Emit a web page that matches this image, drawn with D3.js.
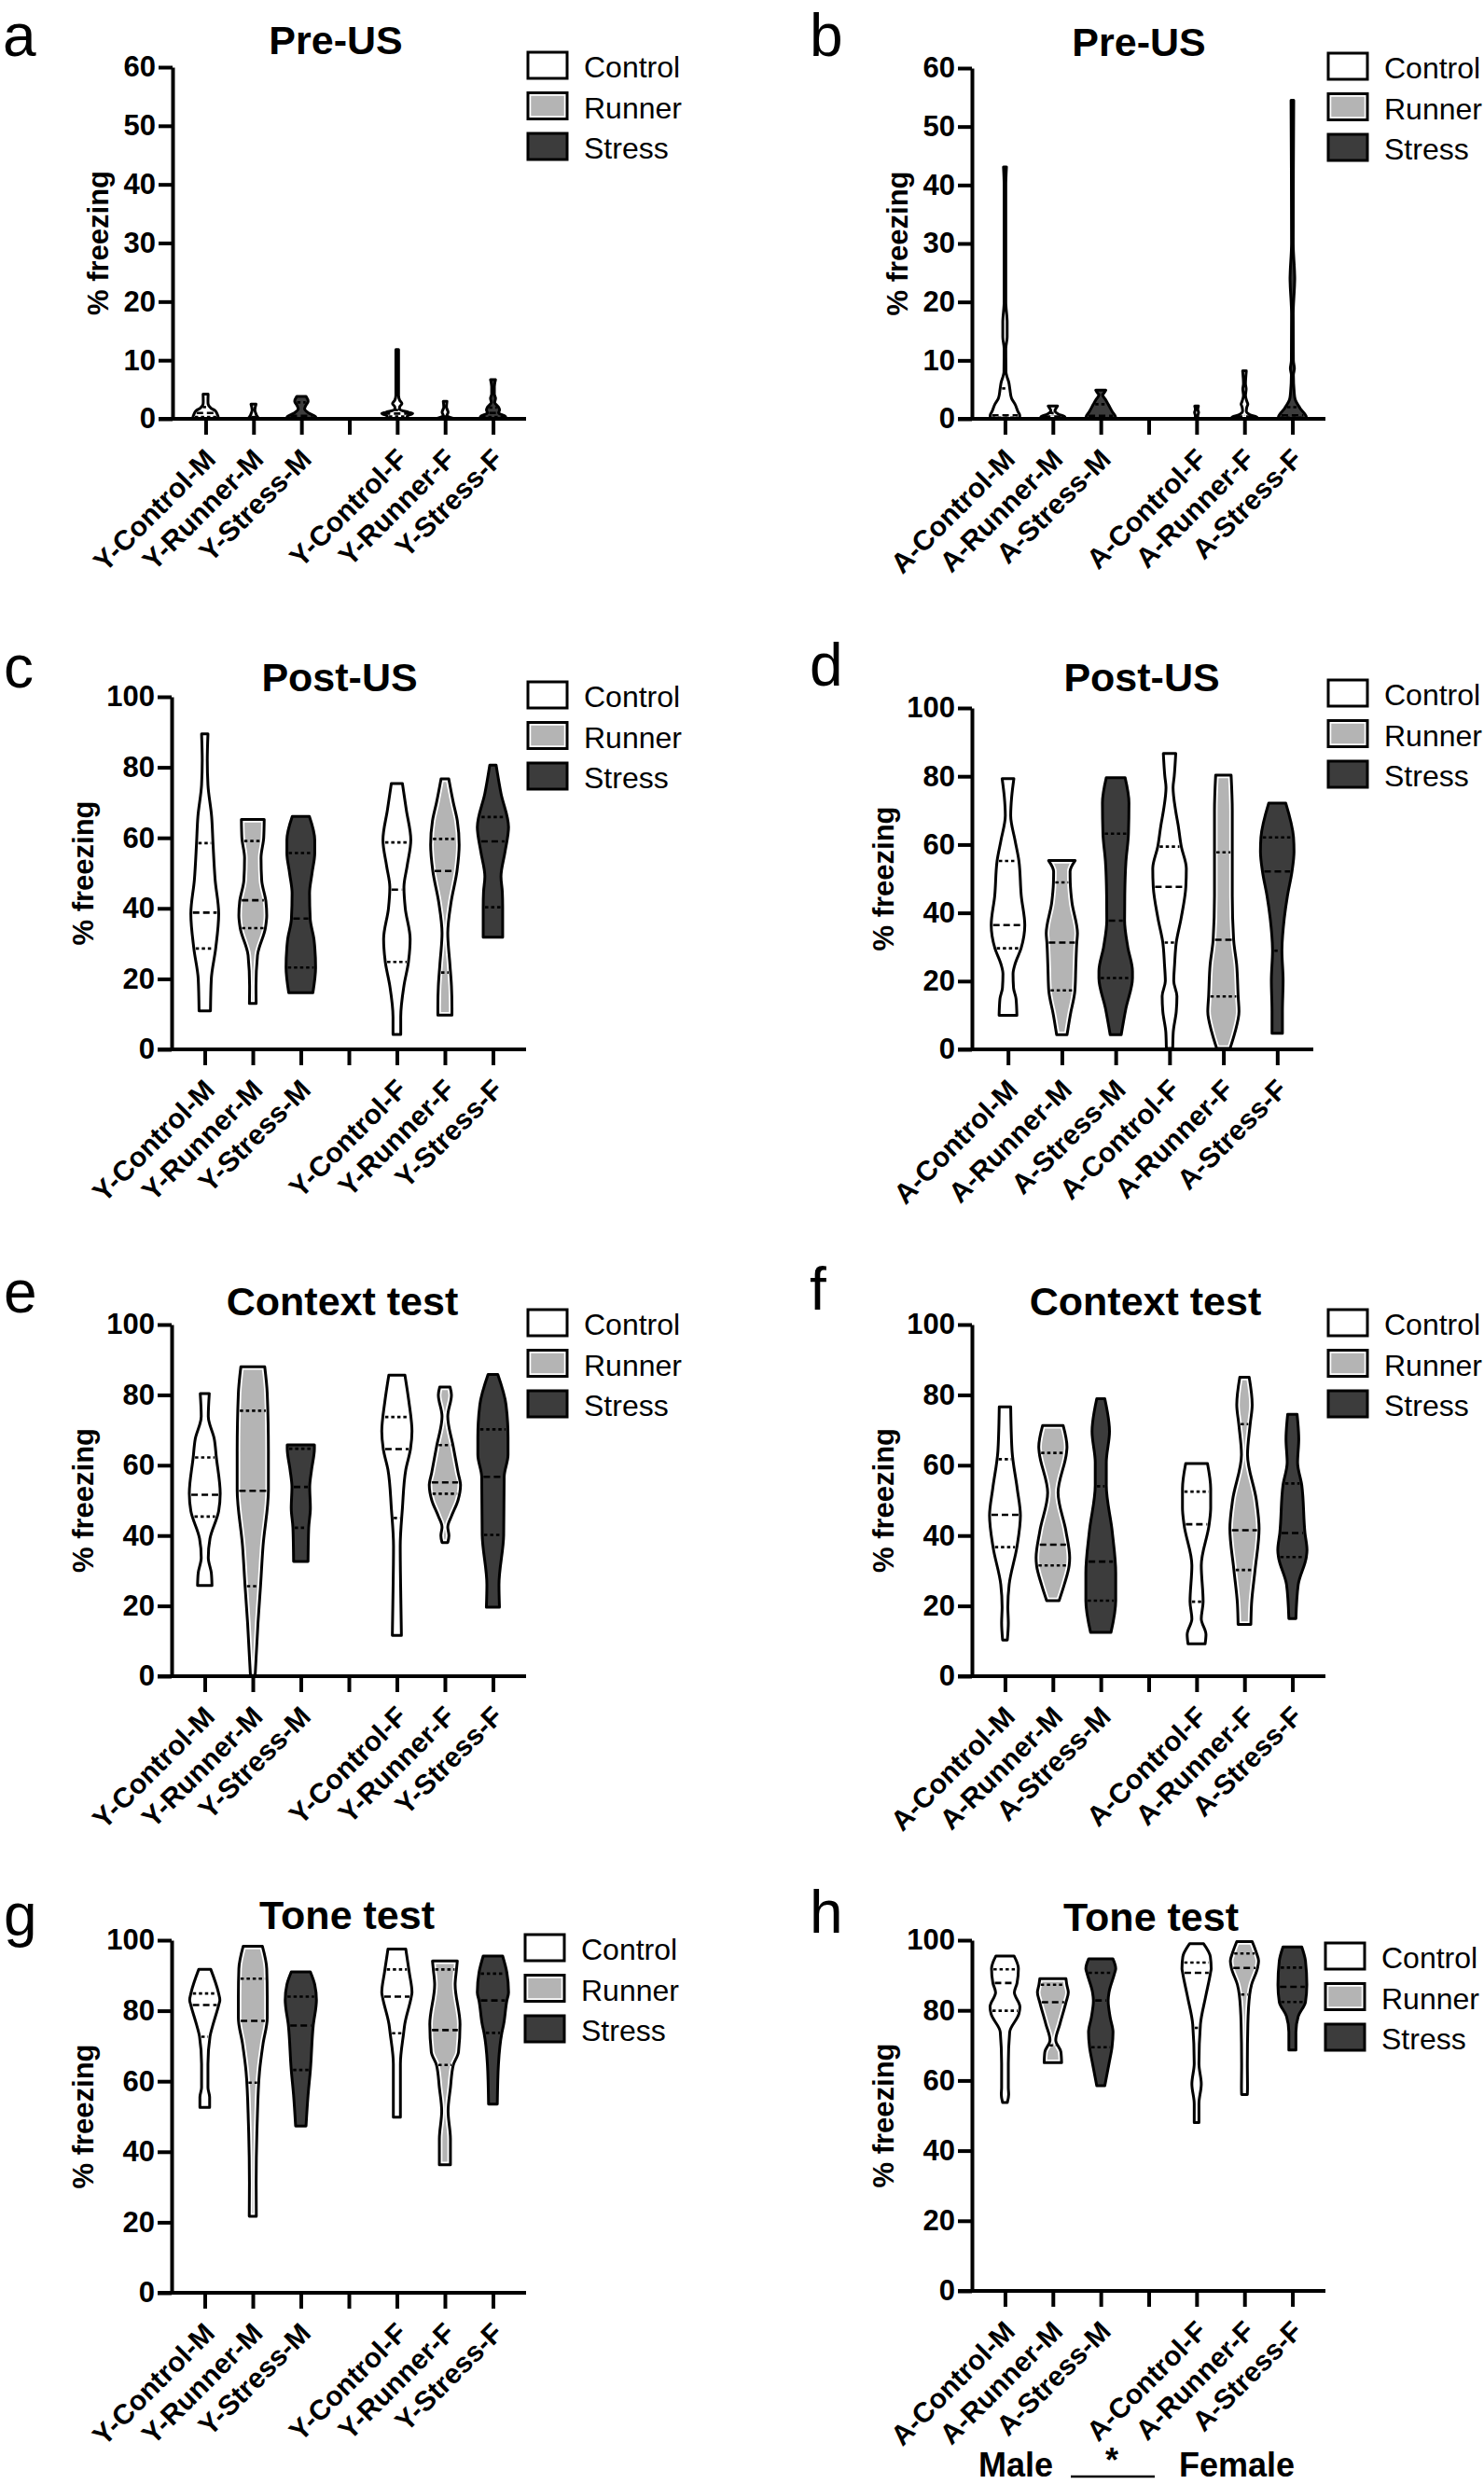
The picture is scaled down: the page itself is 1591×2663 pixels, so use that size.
<!DOCTYPE html>
<html>
<head>
<meta charset="utf-8">
<script src="https://cdn.jsdelivr.net/npm/d3@7"></script>
<style>
  body { margin: 0; background: #fff; }
  svg { display: block; }
</style>
</head>
<body>
<svg id="fig" width="1591" height="2663"></svg>
<script>
/* ── Data ─────────────────────────────────────────────────────────── */
const groupsY = ["Y-Control-M", "Y-Runner-M", "Y-Stress-M", "Y-Control-F", "Y-Runner-F", "Y-Stress-F"];
const groupsA = ["A-Control-M", "A-Runner-M", "A-Stress-M", "A-Control-F", "A-Runner-F", "A-Stress-F"];
const legendLabels = ["Control", "Runner", "Stress"];
const ticksPre  = [0, 10, 20, 30, 40, 50, 60];
const ticksTest = [0, 20, 40, 60, 80, 100];

// each violin: quartiles + outline profile [value, relative width 0..1]
const preUS_Y = [
  { q1: 0.3, med: 1.0, q3: 2.0, prof: [[4.2,.15],[3.0,.14],[2.5,.15],[1.8,.33],[1.4,.56],[0.8,.69],[0.3,.75],[0,.75]] },
  { q1: 0, med: 0.3, q3: 0.6, prof: [[2.5,.15],[1.5,.08],[0.9,.14],[0.6,.18],[0.3,.25],[0,.33]] },
  { q1: 0, med: 0.5, q3: 2.8, prof: [[3.8,.28],[3.0,.40],[2.2,.25],[1.7,.19],[1.0,.42],[0.4,.83],[0,.89]] },
  { q1: 0.4, med: 0.9, q3: 1.5, prof: [[11.8,.08],[4,.08],[3.2,.14],[2.6,.28],[2.0,.14],[1.6,.14],[1.1,.69],[0.9,.92],[0.5,.61],[0,.56]] },
  { q1: 0, med: 0.4, q3: 1.0, prof: [[3.0,.11],[2.0,.08],[1.1,.18],[0.6,.11],[0.2,.33],[0,.56]] },
  { q1: 0.3, med: 1.0, q3: 1.9, prof: [[6.7,.15],[5.5,.08],[4.2,.08],[3.5,.15],[2.8,.10],[2.0,.33],[1.5,.39],[1.0,.33],[0.4,.74],[0,.78]] }
];
const preUS_A = [
  { q1: 0.2, med: 0.6, q3: 5.2, prof: [[43.1,.09],[40,.05],[20,.05],[16.5,.13],[15.7,.13],[14,.13],[12,.05],[8,.06],[7.3,.11],[6.2,.23],[5.1,.29],[3.5,.39],[2.5,.60],[1.2,.78],[0.6,.88],[0,.88]] },
  { q1: 0, med: 0.4, q3: 1.0, prof: [[2.2,.28],[1.8,.19],[1.4,.12],[0.8,.33],[0.3,.72],[0,.72]] },
  { q1: 0, med: 0.5, q3: 2.5, prof: [[4.9,.30],[4.4,.19],[4.1,.11],[3.3,.28],[2.5,.44],[1.2,.69],[0.3,.88],[0,.88]] },
  { q1: 0, med: 0, q3: 0.5, prof: [[2.2,.11],[1.6,.07],[1.1,.12],[0.5,.07],[0,.08]] },
  { q1: 0, med: 0.4, q3: 1.5, prof: [[8.2,.11],[6,.06],[5.1,.10],[4,.06],[3,.14],[2.5,.20],[2,.14],[1.3,.11],[0.6,.39],[0.3,.74],[0,.74]] },
  { q1: 0.2, med: 0.6, q3: 2.0, prof: [[54.5,.08],[30,.05],[25,.13],[24,.14],[23,.13],[18,.05],[10,.06],[8.6,.12],[7.5,.06],[4.5,.11],[3.4,.16],[1.8,.46],[0.3,.83],[0,.83]] }
];
const postUS_Y = [
  { q1: 28.6, med: 38.8, q3: 58.5, prof: [[89.5,.19],[82,.15],[75,.19],[66,.41],[58.5,.49],[48,.62],[38.5,.83],[28.6,.65],[20,.39],[10.9,.34]] },
  { q1: 34.4, med: 42.3, q3: 59.1, prof: [[65.2,.68],[60,.65],[54.3,.49],[48,.53],[42,.78],[38,.83],[34.4,.75],[26.7,.28],[18,.19],[13,.20]] },
  { q1: 23.2, med: 37.1, q3: 55.7, prof: [[66.1,.51],[59.4,.83],[55.7,.83],[50,.67],[44.3,.52],[37,.56],[31,.79],[23.2,.88],[16.1,.72]] },
  { q1: 24.8, med: 45.3, q3: 58.7, prof: [[75.4,.33],[68,.56],[59.4,.83],[52,.61],[46,.42],[40,.50],[31.3,.79],[24.8,.69],[18,.42],[9.2,.23],[4.2,.23]] },
  { q1: 21.8, med: 50.6, q3: 59.7, prof: [[76.7,.23],[70,.50],[64.8,.74],[58,.85],[50.6,.72],[41.8,.37],[33,.17],[24,.30],[18,.39],[12,.42],[9.7,.42]] },
  { q1: 40.3, med: 59.0, q3: 65.9, prof: [[80.6,.19],[72.6,.48],[63,.93],[56,.72],[49,.48],[44.6,.56],[40.3,.58],[31.8,.58]] }
];
const postUS_A = [
  { q1: 29.6, med: 36.4, q3: 55.2, prof: [[79.3,.35],[74,.22],[68.5,.16],[61.2,.42],[55.2,.65],[45,.79],[36.4,1.0],[29.6,.78],[25,.42],[22.1,.30],[18,.33],[14.8,.48],[10,.53]] },
  { q1: 17.3, med: 31.3, q3: 48.9, prof: [[55.3,.79],[52.1,.49],[48.9,.50],[43.1,.60],[34,.93],[31.3,.89],[24,.83],[17.3,.78],[10,.50],[4.3,.31]] },
  { q1: 20.9, med: 37.7, q3: 63.2, prof: [[79.6,.56],[72.2,.79],[63.2,.76],[55,.61],[45,.54],[37.7,.53],[30,.72],[22.9,1.0],[20.9,1.0],[12,.61],[4.3,.33]] },
  { q1: 31.3, med: 47.6, q3: 59.4, prof: [[86.7,.37],[80,.28],[76.7,.21],[70,.36],[65.8,.51],[59.4,.70],[53,1.0],[47.6,.97],[38.4,.69],[31.3,.40],[24.8,.30],[20,.25],[15.6,.44],[11.1,.40],[5,.22],[0.3,.19]] },
  { q1: 15.5, med: 32.1, q3: 57.7, prof: [[80.3,.46],[70,.53],[57.7,.53],[45,.53],[32.1,.61],[24.8,.79],[15.5,.88],[11.1,.93],[5,.69],[0.3,.40]] },
  { q1: 28.9, med: 52.1, q3: 62.1, prof: [[72.1,.51],[62.1,.97],[58,1.0],[52.1,.88],[45,.61],[38.4,.42],[28.9,.28],[20.2,.35],[11.1,.31],[4.7,.31]] }
];
const context_Y = [
  { q1: 45.4, med: 51.6, q3: 62.2, prof: [[80.4,.27],[73.9,.21],[67.4,.57],[62.2,.69],[52,.92],[47,.83],[39.1,.31],[33.7,.21],[29.4,.39],[25.8,.43]] },
  { q1: 25.6, med: 52.7, q3: 75.5, prof: [[88,.71],[80.4,.86],[64,.93],[53,.93],[37,.61],[25.6,.46],[15.2,.31],[0.2,.14]] },
  { q1: 42.2, med: 53.8, q3: 64.7, prof: [[65.8,.81],[64.7,.81],[58.7,.64],[53.8,.53],[47.8,.57],[42.2,.47],[32.6,.43]] },
  { q1: 45.0, med: 64.6, q3: 73.7, prof: [[85.6,.48],[78.3,.71],[69.6,.90],[64.6,.81],[58.7,.53],[47.8,.33],[37,.20],[20.6,.24],[11.6,.27]] },
  { q1: 51.9, med: 55.1, q3: 65.7, prof: [[82.2,.31],[80,.39],[73.9,.17],[65.2,.50],[58,.78],[54.3,.93],[50,.78],[45.6,.40],[42.4,.17],[40,.24],[38,.17]] },
  { q1: 40.2, med: 56.7, q3: 70.2, prof: [[85.8,.29],[77.2,.78],[68,.90],[63,.90],[56.7,.67],[40.2,.64],[26,.36],[19.6,.39]] }
];
const context_A = [
  { q1: 36.7, med: 45.9, q3: 61.7, prof: [[76.6,.34],[64.1,.42],[53.3,.73],[45.7,.92],[36.7,.71],[26.1,.25],[19.6,.17],[15.2,.20],[10.3,.14]] },
  { q1: 31.5, med: 37.4, q3: 63.5, prof: [[71.3,.61],[65.2,.84],[63.5,.81],[52.2,.31],[41.2,.78],[33.7,1.0],[31.5,.97],[26.1,.68],[21.5,.37]] },
  { q1: 21.5, med: 32.6, q3: 54.0, prof: [[78.9,.24],[69.6,.52],[60.8,.33],[54.3,.33],[41.2,.68],[29.4,.89],[21.5,.89],[12.5,.61]] },
  { q1: 21.2, med: 43.2, q3: 52.5, prof: [[60.5,.65],[53.3,.84],[47.8,.84],[43.2,.75],[31.5,.28],[21.2,.39],[16.3,.28],[11.9,.56],[9.2,.51]] },
  { q1: 30.2, med: 41.5, q3: 71.7, prof: [[85,.28],[77.2,.46],[71.7,.34],[63,.18],[50,.71],[42,.87],[30.2,.63],[20.6,.42],[14.7,.38]] },
  { q1: 33.9, med: 40.7, q3: 54.8, prof: [[74.5,.28],[67.4,.38],[60.8,.31],[54.3,.56],[40.7,.75],[35.9,.87],[33.9,.83],[26.1,.35],[16.4,.21]] }
];
const tone_Y = [
  { q1: 72.6, med: 81.6, q3: 84.9, prof: [[91.7,.36],[85.2,.81],[83,.90],[81.6,.83],[76.2,.50],[72.6,.31],[64.9,.19],[58.2,.19],[55.5,.29],[52.6,.29]] },
  { q1: 59.6, med: 77.1, q3: 89.1, prof: [[98.3,.57],[91.9,.83],[84,.86],[78,.86],[70.6,.61],[62.7,.40],[48.1,.26],[31.3,.20],[21.7,.21]] },
  { q1: 63.2, med: 75.8, q3: 84.0, prof: [[91,.57],[87.4,.83],[83,.93],[75.8,.74],[63.2,.57],[56,.43],[47.3,.31]] },
  { q1: 73.6, med: 84.0, q3: 91.7, prof: [[97.5,.53],[90.8,.74],[85.2,.90],[84,.86],[76.2,.47],[73.6,.40],[64.9,.21],[49.8,.21]] },
  { q1: 64.6, med: 74.5, q3: 91.7, prof: [[94.1,.74],[91.7,.69],[87.4,.61],[76.2,.90],[68.3,.81],[64.6,.50],[58.2,.33],[51.5,.19],[43.6,.33],[36.3,.33]] },
  { q1: 73.7, med: 82.9, q3: 90.5, prof: [[95.5,.58],[90.8,.83],[85.2,.93],[82.9,.83],[76.2,.64],[73.7,.53],[64.9,.33],[53.5,.26]] }
];
const tone_A = [
  { q1: 79.9, med: 87.8, q3: 91.7, prof: [[95.5,.54],[91.9,.80],[87.8,.72],[85.1,.56],[81,.89],[79,.83],[73.8,.28],[64.8,.20],[58,.20],[56,.22],[53.7,.14]] },
  { q1: 70.0, med: 82.3, q3: 87.3, prof: [[89,.78],[87.3,.83],[85.1,.92],[82.3,.78],[76.1,.42],[71.5,.17],[68.1,.48],[65.1,.52]] },
  { q1: 69.5, med: 82.8, q3: 90.7, prof: [[94.7,.72],[91.9,.89],[90.7,.83],[85.1,.49],[82.8,.44],[78,.56],[73.8,.73],[69.5,.67],[64.8,.49],[58.5,.24]] },
  { q1: 75.0, med: 90.7, q3: 93.6, prof: [[99,.42],[95.3,.82],[91.9,.87],[90.7,.83],[83.9,.54],[76,.23],[64.8,.14],[59,.28],[53.4,.14],[48,.14]] },
  { q1: 84.5, med: 92.1, q3: 96.2, prof: [[99.6,.46],[96.4,.71],[94.1,.84],[92.1,.78],[87.3,.42],[84.5,.31],[76,.20],[64.8,.17],[58,.18],[56,.17]] },
  { q1: 82.4, med: 86.7, q3: 92.2, prof: [[98.1,.56],[94.1,.78],[87.3,.86],[82.4,.78],[78.3,.35],[73.8,.21],[68.7,.21]] }
];

/* ── Layout ───────────────────────────────────────────────────────── */
const FONT = '"Liberation Sans", Arial, Helvetica, sans-serif';
const FILLS = { Control: "#ffffff", Runner: "#b4b4b4", Stress: "#3c3c3c" };
const HALF = 18;     // half width of a violin at relative width 1

const panels = [
  { letter: "a", title: "Pre-US",       groups: groupsY, data: preUS_Y,   ticks: ticksPre,  gap: true,
    ax: 185,  y0: 449,  yTop: 72,   len: 379, pad: 0.69, leg: [566, 56],    tl: [360, 58],    lt: [3, 60] },
  { letter: "b", title: "Pre-US",       groups: groupsA, data: preUS_A,   ticks: ticksPre,  gap: true,
    ax: 1042, y0: 449,  yTop: 73,   len: 379, pad: 0.69, leg: [1424, 57],   tl: [1221, 60],   lt: [868, 60] },
  { letter: "c", title: "Post-US",      groups: groupsY, data: postUS_Y,  ticks: ticksTest, gap: true,
    ax: 184,  y0: 1125, yTop: 747,  len: 380, pad: 0.69, leg: [566, 731],   tl: [364, 741],   lt: [4, 737] },
  { letter: "d", title: "Post-US",      groups: groupsA, data: postUS_A,  ticks: ticksTest, gap: false,
    ax: 1042, y0: 1125, yTop: 759,  len: 366, pad: 0.67, leg: [1424, 729],  tl: [1224, 741],  lt: [868, 735] },
  { letter: "e", title: "Context test", groups: groupsY, data: context_Y, ticks: ticksTest, gap: true,
    ax: 184,  y0: 1797, yTop: 1420, len: 380, pad: 0.69, leg: [566, 1404],  tl: [367, 1410],  lt: [4, 1407] },
  { letter: "f", title: "Context test", groups: groupsA, data: context_A, ticks: ticksTest, gap: true,
    ax: 1042, y0: 1797, yTop: 1420, len: 379, pad: 0.69, leg: [1424, 1404], tl: [1228, 1410], lt: [868, 1404] },
  { letter: "g", title: "Tone test",    groups: groupsY, data: tone_Y,    ticks: ticksTest, gap: true,
    ax: 184,  y0: 2458, yTop: 2080, len: 380, pad: 0.69, leg: [563, 2074],  tl: [372, 2068],  lt: [4, 2075] },
  { letter: "h", title: "Tone test",    groups: groupsA, data: tone_A,    ticks: ticksTest, gap: true,
    ax: 1042, y0: 2456, yTop: 2080, len: 379, pad: 0.69, leg: [1421, 2083], tl: [1234, 2070], lt: [868, 2072] }
];

const svg = d3.select("#fig");
svg.append("rect").attr("width", 1591).attr("height", 2663).attr("fill", "#fff");

const wScale = d3.scaleLinear().domain([0, 1]).range([0, HALF]);

/* ── Violin ───────────────────────────────────────────────────────── */
function drawViolin(g, d, name, x, y) {
  const type = name.split("-")[1];
  const cx = x(name);
  const prof = d.prof.slice().sort((a, b) => a[0] - b[0]);
  const widthAt = d3.scaleLinear().domain(prof.map(p => p[0])).range(prof.map(p => p[1])).clamp(true);

  const area = d3.area()
    .y(p => y(p[0]))
    .x0(p => cx - wScale(p[1]))
    .x1(p => cx + wScale(p[1]))
    .curve(d3.curveMonotoneY);
  const path = area(prof);

  // fill (runner gets a white inner rim, like the original)
  g.append("path").attr("d", path)
    .attr("fill", FILLS[type])
    .attr("stroke", type === "Runner" ? "#fff" : "none")
    .attr("stroke-width", 6.5);

  // median (dashed) and quartiles (dotted)
  [["q1", "3.5,3"], ["med", "7,4"], ["q3", "3.5,3"]].forEach(([k, dash]) => {
    const v = d[k];
    const hw = Math.max(0, wScale(widthAt(v)) - 2);
    if (hw < 1.5) return;
    g.append("line")
      .attr("x1", cx - hw).attr("x2", cx + hw)
      .attr("y1", y(v)).attr("y2", y(v))
      .attr("stroke", "#000").attr("stroke-width", 2.6)
      .attr("stroke-dasharray", dash);
  });

  g.append("path").attr("d", path)
    .attr("fill", "none")
    .attr("stroke", "#000")
    .attr("stroke-width", 3)
    .attr("stroke-linejoin", "round");
}

/* ── Panel ────────────────────────────────────────────────────────── */
function drawPanel(p) {
  const g = svg.append("g");
  const ymax = d3.max(p.ticks);
  const y = d3.scaleLinear().domain([0, ymax]).range([p.y0, p.yTop]);
  const slots = p.gap ? [...p.groups.slice(0, 3), " ", ...p.groups.slice(3)] : p.groups;
  const x = d3.scalePoint().domain(slots).range([p.ax, p.ax + p.len]).padding(p.pad);

  // violins first, axes on top
  p.data.forEach((d, i) => drawViolin(g, d, p.groups[i], x, y));

  // y axis
  const gy = g.append("g")
    .attr("transform", `translate(${p.ax},0)`)
    .call(d3.axisLeft(y).tickValues(p.ticks).tickSize(15).tickSizeOuter(0).tickPadding(3));
  gy.attr("font-family", FONT).attr("font-size", 31).attr("font-weight", "bold");
  gy.select(".domain").attr("stroke-width", 4);
  gy.selectAll(".tick line").attr("stroke-width", 4);
  gy.selectAll(".tick text").attr("fill", "#000");

  // x axis
  const gx = g.append("g")
    .attr("transform", `translate(0,${p.y0})`)
    .call(d3.axisBottom(x).tickSize(17).tickSizeOuter(0).tickFormat(s => s.trim()));
  gx.select(".domain").remove();
  gx.attr("font-family", FONT).attr("font-size", 30).attr("font-weight", "bold");
  gx.selectAll(".tick line").attr("stroke-width", 4);
  gx.selectAll(".tick text")
    .attr("fill", "#000")
    .attr("x", 0).attr("y", 0).attr("dy", 0)
    .attr("text-anchor", "end")
    .attr("transform", "translate(12,45) rotate(-45)");
  g.append("line")
    .attr("x1", p.ax - 15).attr("x2", p.ax + p.len)
    .attr("y1", p.y0).attr("y2", p.y0)
    .attr("stroke", "#000").attr("stroke-width", 4);

  // y label
  const labOff = ymax === 60 ? 80 : 95;
  g.append("text")
    .attr("transform", `translate(${p.ax - labOff},${(p.y0 + p.yTop) / 2}) rotate(-90)`)
    .attr("dy", "0.35em")
    .attr("text-anchor", "middle")
    .attr("font-family", FONT).attr("font-size", 31).attr("font-weight", "bold")
    .text("% freezing");

  // title
  g.append("text")
    .attr("x", p.tl[0]).attr("y", p.tl[1])
    .attr("text-anchor", "middle")
    .attr("font-family", FONT).attr("font-size", 43).attr("font-weight", "bold")
    .text(p.title);

  // panel letter
  g.append("text")
    .attr("x", p.lt[0]).attr("y", p.lt[1])
    .attr("font-family", FONT).attr("font-size", 64)
    .text(p.letter);

  // legend
  legendLabels.forEach((lab, i) => {
    const ly = p.leg[1] + i * 43.5;
    g.append("rect")
      .attr("x", p.leg[0]).attr("y", ly).attr("width", 42).attr("height", 28)
      .attr("fill", FILLS[lab])
      .attr("stroke", lab === "Runner" ? "#fff" : "none").attr("stroke-width", 6.5);
    g.append("rect")
      .attr("x", p.leg[0]).attr("y", ly).attr("width", 42).attr("height", 28)
      .attr("fill", "none").attr("stroke", "#000").attr("stroke-width", 3);
    g.append("text")
      .attr("x", p.leg[0] + 60).attr("y", ly + 27)
      .attr("font-family", FONT).attr("font-size", 32)
      .text(lab);
  });
}

panels.forEach(drawPanel);

/* ── Sex comparison note under panel h ───────────────────────────── */
const note = svg.append("g").attr("font-family", FONT).attr("font-weight", "bold").attr("font-size", 36);
note.append("text").attr("x", 1089).attr("y", 2655).attr("text-anchor", "middle").text("Male");
note.append("text").attr("x", 1326).attr("y", 2655).attr("text-anchor", "middle").text("Female");
note.append("text").attr("x", 1192).attr("y", 2650).attr("text-anchor", "middle").text("*");
note.append("line").attr("x1", 1148).attr("x2", 1238).attr("y1", 2655).attr("y2", 2655)
  .attr("stroke", "#000").attr("stroke-width", 2.5);
</script>
</body>
</html>
